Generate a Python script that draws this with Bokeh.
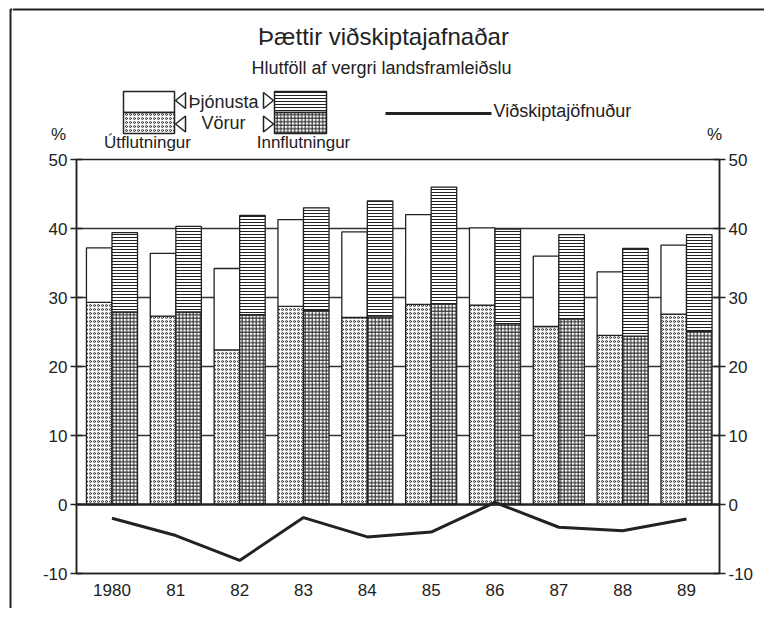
from bokeh.plotting import figure
from bokeh.layouts import column, row
from bokeh.models import Range1d, LinearAxis, FixedTicker, Span, ColumnDataSource
from bokeh.transform import dodge
from bokeh.core.properties import value
from bokeh.embed import file_html
from bokeh.resources import INLINE

# ---------------- data (percent of GDP) ----------------
years = ["1980", "81", "82", "83", "84", "85", "86", "87", "88", "89"]
export_goods = [29.3, 27.3, 22.4, 28.7, 27.1, 29.0, 28.9, 25.8, 24.5, 27.6]
export_total = [37.2, 36.4, 34.2, 41.3, 39.5, 42.0, 40.1, 36.0, 33.7, 37.6]
import_goods = [27.9, 27.9, 27.5, 28.1, 27.2, 29.1, 26.2, 26.9, 24.4, 25.1]
import_total = [39.4, 40.3, 41.9, 43.0, 44.0, 46.0, 39.9, 39.1, 37.1, 39.1]
balance = [-2.0, -4.5, -8.1, -1.9, -4.7, -4.0, 0.3, -3.3, -3.8, -2.1]
y_ticks = [-10, 0, 10, 20, 30, 40, 50]
grid_ticks = [10, 20, 30, 40]

title_text = "Þættir viðskiptajafnaðar"
subtitle_text = "Hlutföll af vergri landsframleiðslu"
lbl_services = "Þjónusta"
lbl_goods = "Vörur"
lbl_exports = "Útflutningur"
lbl_imports = "Innflutningur"
lbl_balance = "Viðskiptajöfnuður"

# ---------------- layout constants (page pixels) ----------------
INK = "#222222"
FONT = "Liberation Sans"
W, H = 764, 608
HDR_H = 151          # header height
STRIP_W = 12         # left strip holding the outer border line
FL, FR, FT, FB = 76, 719, 159, 573   # chart frame edges
XMIN, XMAX = -0.556, 9.517
BORDER_X, BORDER_Y = 10, 9

HATCH_DOT = dict(hatch_pattern="o", hatch_scale=4, hatch_color=INK, hatch_weight=0.9)
HATCH_GRID = dict(hatch_pattern="+", hatch_scale=3.5, hatch_color=INK, hatch_weight=1.0)
HATCH_HLINE = dict(hatch_pattern="-", hatch_scale=3, hatch_color=INK, hatch_weight=1.0)


def blank_fig(x0, x1, h):
    f = figure(width=x1 - x0, height=h, x_range=Range1d(x0, x1), y_range=Range1d(h, 0),
               output_backend="svg", toolbar_location=None,
               x_axis_location=None, y_axis_location=None)
    f.min_border = 0
    f.min_border_left = f.min_border_right = f.min_border_top = f.min_border_bottom = 0
    f.outline_line_color = None
    f.grid.visible = False
    f.background_fill_color = "white"
    f.border_fill_color = "white"
    return f


# ---------------- left strip with the outer border line ----------------
strip = blank_fig(0, STRIP_W, H)
strip.line(x=[BORDER_X, BORDER_X, STRIP_W], y=[H, BORDER_Y, BORDER_Y],
           line_color=INK, line_width=2)

# ---------------- header: titles and legend ----------------
hdr = blank_fig(STRIP_W, W, HDR_H)


def htext(text, x, y, size, align="center"):
    hdr.text(x=[x], y=[y], text=[text], text_align=align, text_baseline="middle",
             text_font=value(FONT), text_font_size=size, text_color=INK)


htext(title_text, 383, 36, "24px")
htext(subtitle_text, 381, 67, "18px")
htext("%", 58, 134, "17px")
htext("%", 714, 134, "17px")
htext(lbl_services, 188, 101, "18px", "left")
htext(lbl_goods, 223, 122, "18px")
htext(lbl_exports, 147, 142, "17px")
htext(lbl_imports, 303, 142, "17px")
htext(lbl_balance, 493, 110, "18px", "left")

sw = dict(fill_color="white", line_color=INK, line_width=1.5)
hdr.quad(left=[123], right=[174], top=[91], bottom=[112], **sw)
hdr.quad(left=[123], right=[174], top=[112], bottom=[133], **sw, **HATCH_DOT)
hdr.quad(left=[274], right=[326], top=[91], bottom=[112], **sw, **HATCH_HLINE)
hdr.quad(left=[274], right=[326], top=[112], bottom=[133], **sw, **HATCH_GRID)

tri_x = [[175, 185, 185], [175, 185, 185], [263, 263, 273], [263, 263, 273]]
tri_y = [[100, 92, 108], [123.5, 115.5, 131.5], [92, 108, 100], [115.5, 131.5, 123.5]]
hdr.patches(xs=tri_x, ys=tri_y, fill_color="white", line_color=INK, line_width=1.5)

hdr.line(x=[385, 491], y=[113, 113], line_color=INK, line_width=3)
hdr.line(x=[STRIP_W, W], y=[BORDER_Y, BORDER_Y], line_color=INK, line_width=2)

# ---------------- chart ----------------
CW = W - STRIP_W
CH = H - HDR_H
p = figure(width=CW, height=CH, x_range=Range1d(XMIN, XMAX), y_range=Range1d(-10, 50),
           output_backend="svg", toolbar_location=None)
p.min_border_left = FL - STRIP_W
p.min_border_right = CW - (FR - STRIP_W)
p.min_border_top = FT - HDR_H
p.min_border_bottom = CH - (FB - HDR_H)
p.background_fill_color = "white"
p.border_fill_color = "white"
p.outline_line_color = INK
p.outline_line_width = 1.5

xa = p.xaxis[0]
xa.ticker = FixedTicker(ticks=list(range(len(years))))
xa.major_label_overrides = {i: y for i, y in enumerate(years)}
xa.axis_line_color = INK
xa.axis_line_width = 1.5
xa.major_tick_line_color = None
xa.minor_tick_line_color = None
xa.major_tick_in = 0
xa.major_tick_out = 0
xa.major_label_standoff = 10
xa.major_label_text_font = FONT
xa.major_label_text_font_size = "17px"
xa.major_label_text_color = INK

ya = p.yaxis[0]
yr = LinearAxis()
p.add_layout(yr, "right")
for ax in (ya, yr):
    ax.ticker = FixedTicker(ticks=y_ticks)
    ax.major_label_overrides = {t: str(t) for t in y_ticks}
    ax.axis_line_color = INK
    ax.axis_line_width = 1.5
    ax.major_tick_line_color = INK
    ax.major_tick_line_width = 1.5
    ax.major_tick_in = 6
    ax.major_tick_out = 6
    ax.minor_tick_line_color = None
    ax.major_label_standoff = 3
    ax.major_label_text_font = FONT
    ax.major_label_text_font_size = "17px"
    ax.major_label_text_color = INK

p.xgrid.grid_line_color = None
p.ygrid.ticker = FixedTicker(ticks=grid_ticks)
p.ygrid.grid_line_color = "#333333"
p.ygrid.grid_line_width = 1.3

src = ColumnDataSource(dict(x=list(range(len(years))), eg=export_goods, et=export_total,
                            ig=import_goods, it=import_total, bal=balance))
BW = 0.4
common = dict(width=BW, source=src, line_color=INK, line_width=1.3, fill_color="white")
xe = dodge("x", -BW / 2, range=p.x_range)
xi = dodge("x", BW / 2, range=p.x_range)
p.vbar(x=xe, bottom=0, top="eg", **common, **HATCH_DOT)
p.vbar(x=xe, bottom="eg", top="et", **common)
p.vbar(x=xi, bottom=0, top="ig", **common, **HATCH_GRID)
p.vbar(x=xi, bottom="ig", top="it", **common, **HATCH_HLINE)

p.add_layout(Span(location=0, dimension="width", line_color=INK, line_width=2.5))
p.line("x", "bal", source=src, line_color=INK, line_width=3)

# nesting the header in its own row keeps its frame independent of the chart frame
layout = row(strip, column(row(hdr), p))
open("out.html", "w").write(file_html(layout, INLINE))
